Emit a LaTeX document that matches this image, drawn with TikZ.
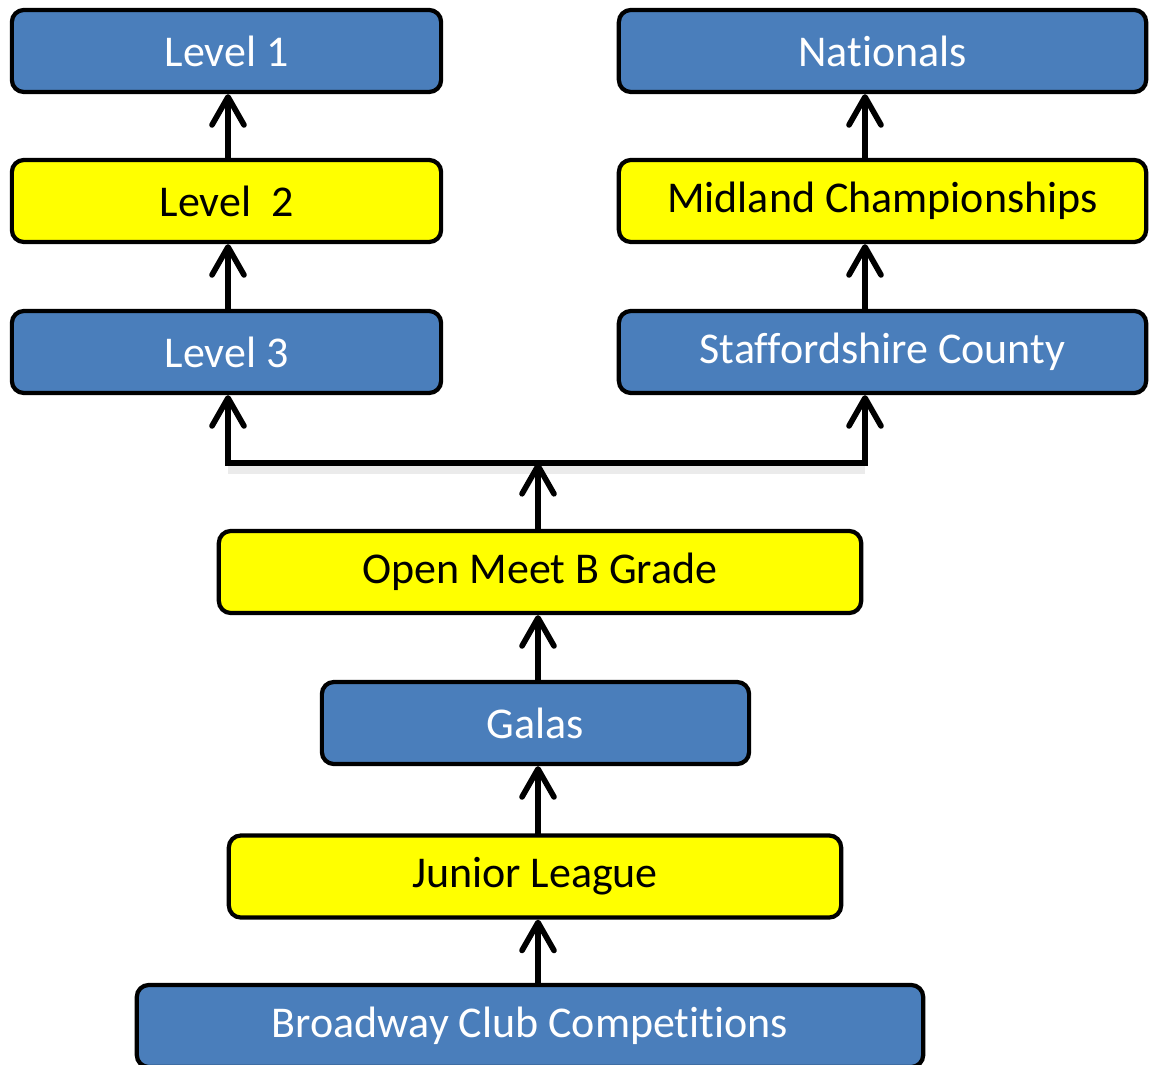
\documentclass[tikz,border=0pt]{standalone}
\usepackage{fontspec}
\setmainfont{Carlito}[Ligatures={NoCommon}]
\usetikzlibrary{arrows.meta,positioning,calc}

\definecolor{boxblue}{HTML}{4A7EBB}
\definecolor{boxyellow}{HTML}{FFFF00}

\begin{document}
\begin{tikzpicture}[x=0.01cm, y=-0.01cm,
        block/.style={rectangle, draw, rounded corners=0.12cm, line width=1.2pt, minimum height=0.82cm, inner sep=0pt, font=\fontsize{12.5}{15}\selectfont, text centered},
        blueblock/.style={block, fill=boxblue, text=white},
        yellowblock/.style={block, fill=boxyellow, text=black},
        arr/.style={-{Straight Barb[length=0.28cm, width=0.32cm, round]}, line width=1.6pt, line cap=round}]

        \clip (0,0) rectangle (1149,1064);

        % Left column
        \node[blueblock, minimum width=4.29cm] (lvlone) at (226.5, 51) {Level 1};
        \node[yellowblock, minimum width=4.29cm] (lvltwo) at (226.5, 201) {Level~~2};
        \node[blueblock, minimum width=4.29cm] (lvlthree) at (226.5, 352) {Level 3};

        % Right column
        \node[blueblock, minimum width=5.27cm] (natl) at (882.5, 51) {Nationals};
        \node[yellowblock, minimum width=5.27cm] (midland) at (882.5, 201) {Midland Championships};
        \node[blueblock, minimum width=5.27cm] (staffs) at (882.5, 352) {Staffordshire County};

        % Lower stack
        \node[yellowblock, minimum width=6.42cm] (openmeet) at (540, 572) {Open Meet B Grade};
        \node[blueblock, minimum width=4.27cm] (galas) at (535.5, 723) {Galas};
        \node[yellowblock, minimum width=6.12cm] (junior) at (535, 876.5) {Junior League};
        \node[blueblock, minimum width=7.86cm] (broadway) at (530, 1026) {Broadway Club Competitions};

        % Connector positions
        \coordinate (lx) at (228, 0);
        \coordinate (rx) at (865, 0);
        \coordinate (split) at (538, 463);

        % Column arrows
        \draw[arr] (lvltwo.north -| lx) -- (lvlone.south -| lx);
        \draw[arr] (lvlthree.north -| lx) -- (lvltwo.south -| lx);
        \draw[arr] (midland.north -| rx) -- (natl.south -| rx);
        \draw[arr] (staffs.north -| rx) -- (midland.south -| rx);

        % Split
        \draw[line width=3pt, black!8] ([yshift=-0.06cm]split -| lx) -- ([yshift=-0.06cm]split -| rx);
        \draw[arr] (split) -| (lvlthree.south -| lx);
        \draw[arr] (split) -| (staffs.south -| rx);
        \draw[arr] (openmeet.north -| split) -- (split);

        % Stack arrows
        \draw[arr] (galas.north -| split) -- (openmeet.south -| split);
        \draw[arr] (junior.north -| split) -- (galas.south -| split);
        \draw[arr] (broadway.north -| split) -- (junior.south -| split);

    \end{tikzpicture}
\end{document}
